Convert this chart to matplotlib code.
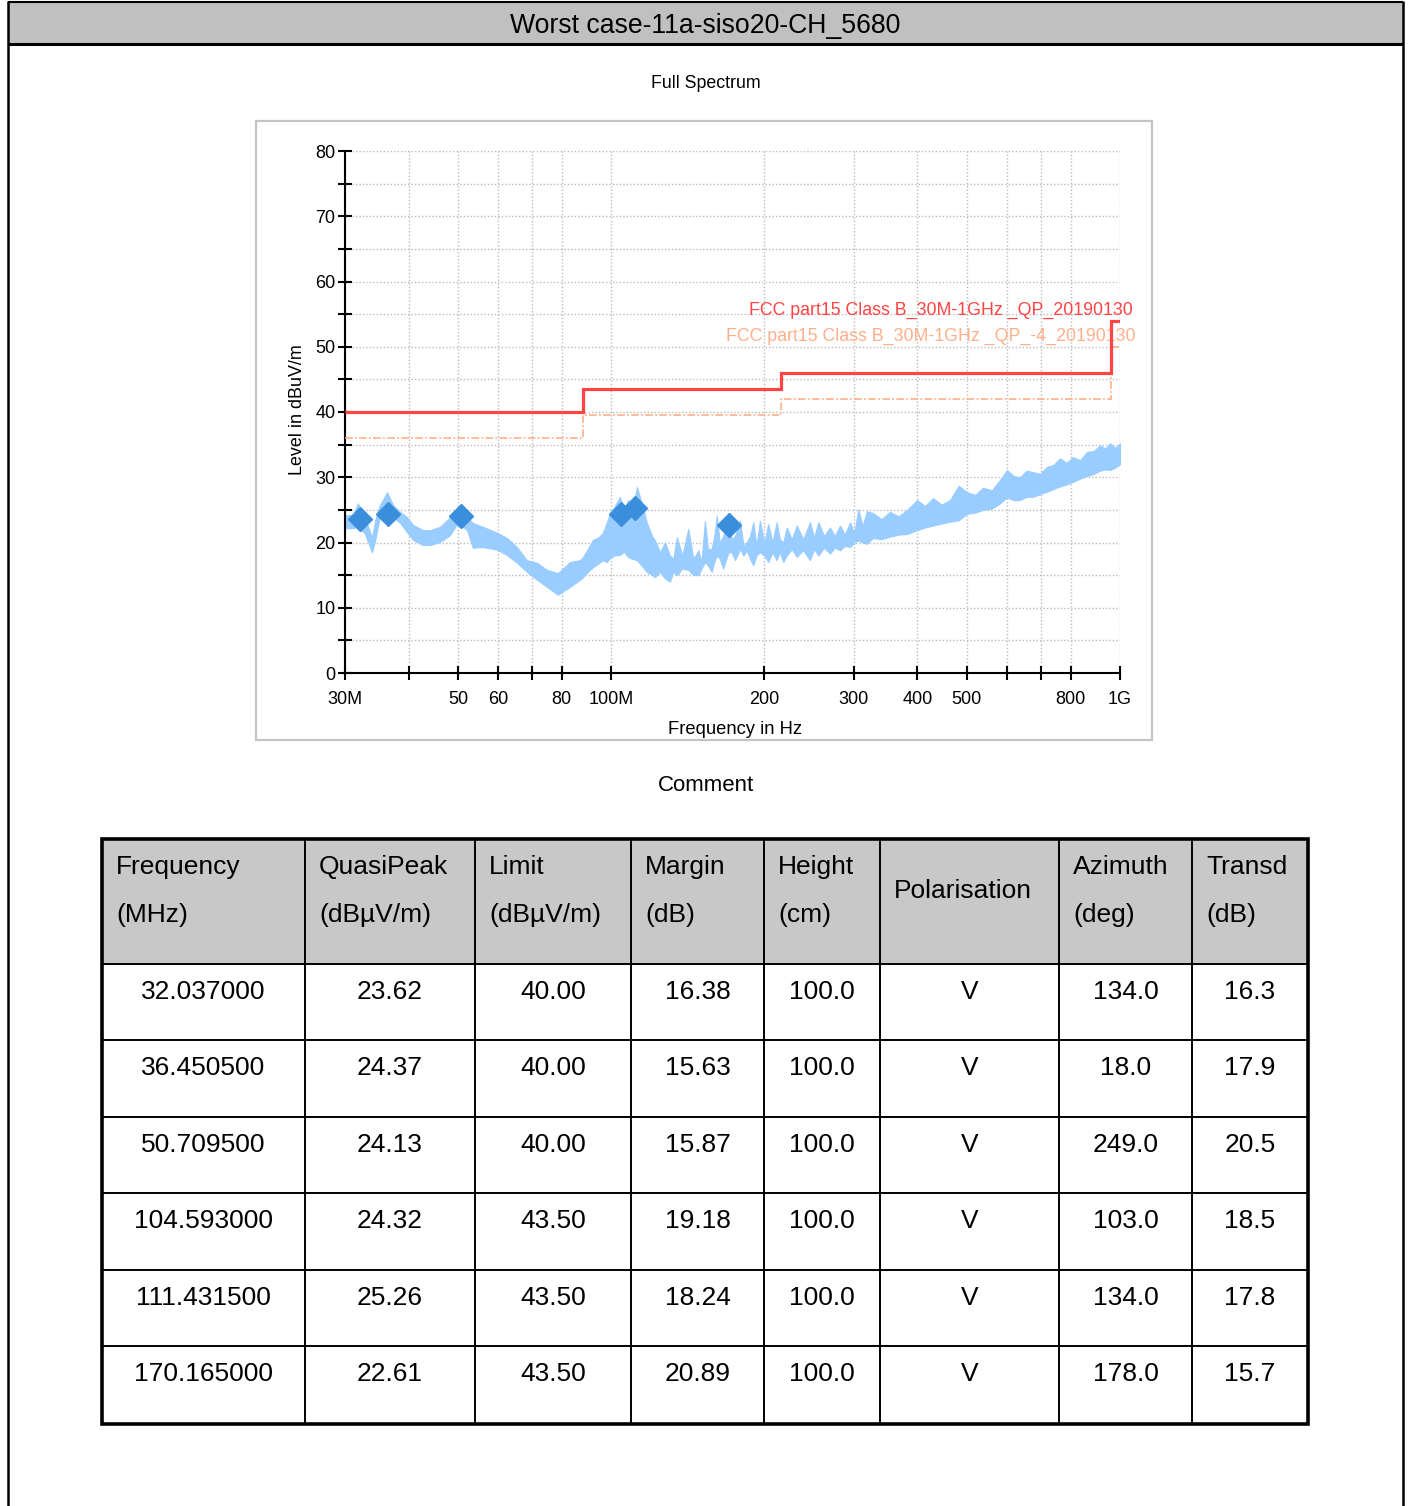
import matplotlib
matplotlib.use("Agg")
import matplotlib.pyplot as plt
from matplotlib.patches import Rectangle
from matplotlib.ticker import NullLocator, FixedLocator

plt.rcParams['font.family'] = ['Liberation Sans', 'DejaVu Sans']

# ---------------- data ----------------
title = "Worst case-11a-siso20-CH_5680"

# spectrum envelope (MHz, dBuV/m)
env_freq = [30.0, 31.1, 31.8, 32.8, 33.9, 34.4, 35.1, 36.3, 37.3, 38.5, 39.7, 40.8, 42.7, 44.1,
            46.1, 48.2, 50.0, 52.1, 53.5, 56.0, 59.7, 62.4, 65.3, 68.3, 71.5, 74.8, 78.6, 83.0,
            86.9, 88.1, 90.0, 92.1, 94.5, 96.4, 98.0, 99.5, 101.5, 104.1, 106.0, 107.9, 110.0,
            112.4, 115.5, 117.5, 120.3, 122.0, 124.8, 127.6, 130.5, 132.5, 134.6, 138.0, 141.8,
            145.1, 148.4, 150.5, 152.9, 155.0, 157.6, 159.5, 161.3, 163.5, 166.1, 170.0, 172.5,
            175.2, 179.2, 182.0, 184.7, 187.5, 190.3, 193.0, 196.1, 200.0, 203.6, 207.5, 211.5,
            214.5, 217.9, 221.4, 226.5, 231.6, 238.5, 245.9, 250.5, 255.4, 262.0, 269.2, 275.0,
            281.7, 288.0, 294.8, 300.5, 306.0, 312.0, 318.0, 327.1, 340.0, 353.2, 367.0, 381.6,
            399.2, 414.0, 429.1, 446.0, 463.4, 482.0, 500.5, 520.0, 538.1, 560.0, 581.0, 599.8,
            618.0, 636.1, 655.0, 674.6, 696.0, 718.6, 740.0, 762.4, 785.0, 808.6, 835.0, 861.3,
            887.0, 913.5, 935.0, 955.9, 980.0, 1000.0]
env_upper = [24.2, 24.2, 26.0, 23.8, 20.8, 23.4, 25.7, 27.7, 25.7, 24.7, 23.9, 22.7, 21.9, 21.9,
             22.4, 23.8, 25.4, 23.9, 23.0, 22.4, 21.5, 20.7, 19.3, 17.3, 16.9, 15.8, 15.3, 17.0,
             17.3, 17.8, 19.0, 20.4, 20.8, 21.5, 23.0, 24.5, 25.5, 27.0, 24.7, 26.5, 24.7,
             28.5, 25.4, 23.1, 21.0, 20.3, 18.5, 20.0, 18.0, 17.5, 20.8, 18.0, 22.1,
             17.5, 18.8, 17.0, 23.3, 19.0, 19.0, 21.0, 24.1, 20.0, 21.0, 24.3, 20.5,
             21.0, 23.3, 19.5, 20.0, 21.0, 23.1, 19.5, 23.3, 20.0, 22.8, 20.0, 23.1,
             20.5, 20.0, 22.3, 20.5, 22.6, 20.5, 23.1, 20.8, 23.1, 21.0, 22.3, 21.0,
             22.6, 21.2, 23.1, 21.5, 25.1, 22.5, 24.8, 24.5, 23.6, 24.7, 24.0, 25.0,
             26.5, 25.6, 26.8, 25.8, 26.5, 28.7, 27.7, 27.3, 28.4, 28.0, 29.6, 31.1,
             30.2, 30.0, 31.0, 30.8, 30.5, 31.6, 31.9, 32.9, 32.2, 33.1, 32.6, 33.9,
             34.0, 34.9, 34.4, 35.2, 34.5, 35.2]
env_lower = [22.2, 22.2, 22.4, 21.4, 18.5, 20.4, 23.8, 23.9, 23.8, 23.0, 21.6, 20.4, 19.6, 19.6,
             20.1, 21.1, 23.0, 21.9, 19.2, 19.3, 18.9, 18.1, 16.9, 15.5, 14.3, 13.2, 12.0, 13.2,
             14.3, 14.7, 15.5, 16.2, 16.8, 17.3, 17.0, 17.6, 18.0, 18.1, 18.6, 17.8, 17.5,
             17.3, 16.2, 15.5, 15.0, 14.7, 15.5, 14.5, 14.0, 15.5, 15.0, 16.0, 15.8,
             15.0, 15.0, 16.0, 17.0, 16.5, 15.5, 17.0, 18.0, 17.5, 16.0, 18.5, 18.5,
             17.3, 19.0, 18.0, 18.8, 17.5, 16.5, 18.0, 18.5, 18.0, 17.0, 18.5, 17.3,
             18.5, 17.0, 18.0, 19.0, 17.8, 18.8, 17.3, 19.0, 18.0, 19.2, 18.3, 19.2,
             18.8, 19.5, 19.3, 20.0, 20.3, 20.0, 19.8, 20.7, 20.5, 20.9, 21.2, 21.3,
             21.9, 22.3, 22.6, 22.9, 23.2, 23.4, 24.4, 24.6, 25.0, 25.2, 26.0, 26.9,
             26.5, 26.5, 27.0, 27.0, 27.4, 27.8, 28.2, 28.6, 28.9, 29.3, 29.8, 30.2,
             30.5, 31.0, 31.2, 31.1, 31.5, 32.0]

limit_edges = [30, 88, 216, 960, 1000]
limit_qp = [40.0, 43.5, 46.0, 54.0]
limit_qp_m4 = [36.0, 39.5, 42.0, 50.0]
limit_label = "FCC part15 Class B_30M-1GHz _QP_20190130"
limit_m4_label = "FCC part15 Class B_30M-1GHz _QP_-4_20190130"

xtick_vals = [30, 40, 50, 60, 70, 80, 100, 200, 300, 400, 500, 600, 700, 800, 1000]
xtick_labels = ["30M", "", "50", "60", "", "80", "100M", "200", "300", "400", "500", "", "", "800", "1G"]
ytick_vals = [0, 10, 20, 30, 40, 50, 60, 70, 80]

# table
col_head1 = ["Frequency", "QuasiPeak", "Limit", "Margin", "Height", "Polarisation", "Azimuth", "Transd"]
col_head2 = ["(MHz)", "(dBµV/m)", "(dBµV/m)", "(dB)", "(cm)", "", "(deg)", "(dB)"]
frequency = [32.037000, 36.450500, 50.709500, 104.593000, 111.431500, 170.165000]
quasipeak = [23.62, 24.37, 24.13, 24.32, 25.26, 22.61]
limit = [40.00, 40.00, 40.00, 43.50, 43.50, 43.50]
margin = [16.38, 15.63, 15.87, 19.18, 18.24, 20.89]
height = [100.0, 100.0, 100.0, 100.0, 100.0, 100.0]
polarisation = ["V", "V", "V", "V", "V", "V"]
azimuth = [134.0, 18.0, 249.0, 103.0, 134.0, 178.0]
transd = [16.3, 17.9, 20.5, 18.5, 17.8, 15.7]

# ---------------- layout ----------------
W, H = 1409, 1506
fig = plt.figure(figsize=(W / 100, H / 100), dpi=100)
bg = fig.add_axes([0, 0, 1, 1], zorder=0)
bg.set_xlim(0, W)
bg.set_ylim(H, 0)
bg.axis('off')

# page frame + title band
bg.add_patch(Rectangle((8, 2), 1395, 42, fc='#C0C0C0', ec='none'))
bg.plot([8, 1403], [2, 2], color='black', lw=1.5, solid_capstyle='butt')
bg.plot([8, 1403], [44, 44], color='black', lw=2.2, solid_capstyle='butt')
bg.plot([8, 8], [1, H], color='black', lw=1.8, solid_capstyle='butt')
bg.plot([1403, 1403], [1, H], color='black', lw=1.8, solid_capstyle='butt')
bg.text(705, 25.5, title, ha='center', va='center', fontsize=19.2)

# chart frame
bg.add_patch(Rectangle((256, 121), 896, 619, fill=False, ec='#C4C4C4', lw=1.6))
bg.text(706, 83, "Full Spectrum", ha='center', va='center', fontsize=12.8)
bg.text(706, 785, "Comment", ha='center', va='center', fontsize=16)
bg.text(297, 410, "Level in dBuV/m", ha='center', va='center', rotation=90, fontsize=12.9)
bg.text(735, 729, "Frequency in Hz", ha='center', va='center', fontsize=13.2)

# ---------------- chart ----------------
ax = fig.add_axes([345 / W, 1 - 673 / H, (1120 - 345) / W, (673 - 151) / H], zorder=2)
ax.set_facecolor('none')
ax.set_xscale('log')
ax.set_xlim(30, 1000)
ax.set_ylim(0, 80)

ax.fill_between(env_freq, env_lower, env_upper, color='#99CCFF', lw=0.8, ec='#99CCFF', zorder=2)

ax.stairs(limit_qp_m4, limit_edges, baseline=None, color='#FFAA80', lw=1.1,
          linestyle=(0, (5, 1.5, 1.2, 1.5)), zorder=3)
ax.stairs(limit_qp, limit_edges, baseline=None, color='#FF4444', lw=2.3, zorder=4)

ax.plot(frequency, quasipeak, ls='none', marker='D', ms=12, color='#3A8EDB', zorder=5)

ax.text(1133, 310, limit_label, transform=bg.transData, ha='right', va='center',
        fontsize=12.8, color='#FF4444', zorder=1)
ax.text(1135, 336, limit_m4_label, transform=bg.transData, ha='right', va='center',
        fontsize=12.8, color='#FFB08A', zorder=1)

ax.xaxis.set_major_locator(FixedLocator(xtick_vals))
ax.set_xticklabels(xtick_labels)
ax.xaxis.set_minor_locator(NullLocator())
ax.set_yticks(ytick_vals)
ax.set_yticks([v + 5 for v in ytick_vals[:-1]], minor=True)

ax.grid(True, which='both', color='#BBBBBB', ls=(0, (1, 1.5)), lw=1.0)
ax.set_axisbelow(True)
for s in ['top', 'right']:
    ax.spines[s].set_visible(False)
for s in ['left', 'bottom']:
    ax.spines[s].set_linewidth(1.5)
ax.tick_params(which='both', direction='inout', length=10, width=1.5, labelsize=13)
ax.tick_params(axis='y', pad=2)
ax.tick_params(axis='x', pad=8)

# ---------------- table ----------------
col_edges = [102, 305, 475, 631, 764, 880, 1059, 1192, 1308]
row_edges = [839, 964, 1040, 1117, 1193, 1270, 1346, 1424]
bg.add_patch(Rectangle((col_edges[0], row_edges[0]), col_edges[-1] - col_edges[0],
                       row_edges[1] - row_edges[0], fc='#C8C8C8', ec='none'))
for x in col_edges[1:-1]:
    bg.plot([x, x], [row_edges[0], row_edges[-1]], color='black', lw=1.4, solid_capstyle='butt')
for y in row_edges[1:-1]:
    bg.plot([col_edges[0], col_edges[-1]], [y, y], color='black', lw=1.4, solid_capstyle='butt')
bg.add_patch(Rectangle((col_edges[0], row_edges[0]), col_edges[-1] - col_edges[0],
                       row_edges[-1] - row_edges[0], fill=False, ec='black', lw=2.6))

for i, (h1, h2) in enumerate(zip(col_head1, col_head2)):
    x = col_edges[i] + 14
    if h2:
        bg.text(x, 867, h1, ha='left', va='center', fontsize=19)
        bg.text(x, 915, h2, ha='left', va='center', fontsize=19)
    else:
        bg.text(x, 891, h1, ha='left', va='center', fontsize=19)

rows = list(zip([f"{v:.6f}" for v in frequency],
                [f"{v:.2f}" for v in quasipeak],
                [f"{v:.2f}" for v in limit],
                [f"{v:.2f}" for v in margin],
                [f"{v:.1f}" for v in height],
                polarisation,
                [f"{v:.1f}" for v in azimuth],
                [f"{v:.1f}" for v in transd]))
for r, row in enumerate(rows):
    yc = row_edges[r + 1] + 28
    for c, val in enumerate(row):
        xc = (col_edges[c] + col_edges[c + 1]) / 2
        bg.text(xc, yc, val, ha='center', va='center', fontsize=19)

fig.savefig("out.png", dpi=100)
